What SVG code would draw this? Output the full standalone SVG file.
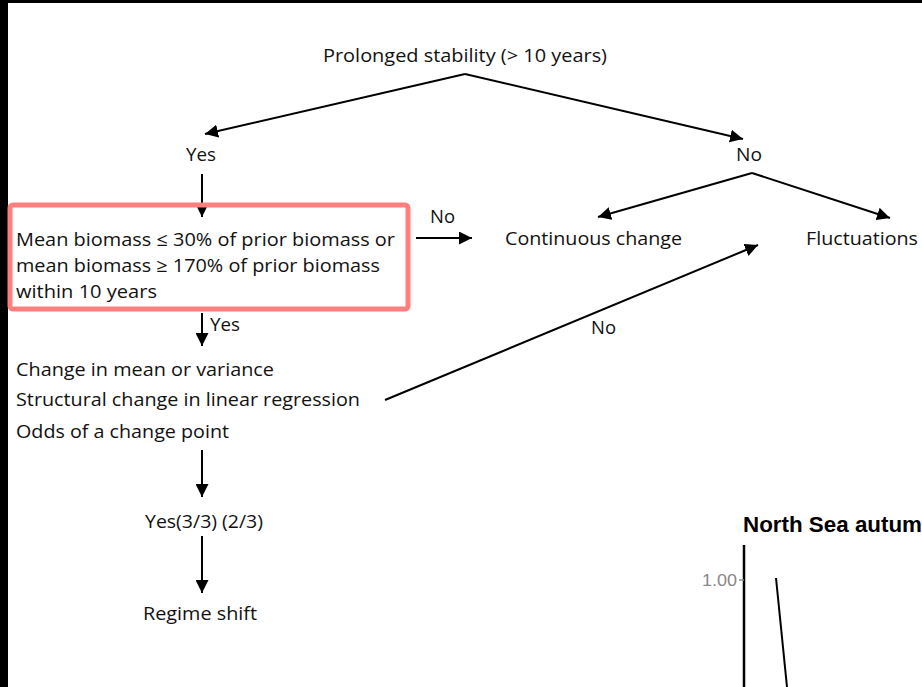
<svg xmlns="http://www.w3.org/2000/svg" width="922" height="687" viewBox="0 0 922 687">
<style>
.t{font-family:"Open Sans","Noto Sans","Liberation Sans",sans-serif;font-size:18.5px;fill:#111;}
.c{stroke:#000;stroke-width:2;fill:none;}
</style>
<defs>
<marker id="ah" viewBox="0 0 10 10" refX="10" refY="5" markerWidth="6.5" markerHeight="6.5" orient="auto" markerUnits="strokeWidth">
<path d="M0,0 L10,5 L0,10 z" fill="#000"/>
</marker>
</defs>
<rect x="0" y="0" width="922" height="687" fill="#fff"/>
<rect x="0" y="0" width="922" height="3" fill="#000"/>
<rect x="0" y="0" width="8" height="687" fill="#000"/>

<g id="connectors">
<line class="c" x1="465" y1="74" x2="205" y2="134" marker-end="url(#ah)"/>
<line class="c" x1="465" y1="74" x2="743" y2="139" marker-end="url(#ah)"/>
<line class="c" x1="202" y1="174" x2="202" y2="217" marker-end="url(#ah)"/>
<line class="c" x1="416" y1="238" x2="472" y2="238" marker-end="url(#ah)"/>
<line class="c" x1="752" y1="173" x2="598" y2="217" marker-end="url(#ah)"/>
<line class="c" x1="752" y1="173" x2="890" y2="218" marker-end="url(#ah)"/>
<line class="c" x1="202" y1="313" x2="202" y2="346" marker-end="url(#ah)"/>
<line class="c" x1="385" y1="400" x2="758" y2="245" marker-end="url(#ah)"/>
<line class="c" x1="202" y1="450" x2="202" y2="497" marker-end="url(#ah)"/>
<line class="c" x1="202" y1="536" x2="202" y2="593" marker-end="url(#ah)"/>
<text class="t" x="430" y="223" textLength="25" lengthAdjust="spacingAndGlyphs">No</text>
<text class="t" x="210" y="331" textLength="30" lengthAdjust="spacingAndGlyphs">Yes</text>
<text class="t" x="591" y="334" textLength="25" lengthAdjust="spacingAndGlyphs">No</text>
</g>

<g id="n-root">
<text class="t" x="323" y="62" textLength="284" lengthAdjust="spacingAndGlyphs">Prolonged stability (&gt; 10 years)</text>
</g>
<g id="n-yes">
<text class="t" x="186" y="161" textLength="30" lengthAdjust="spacingAndGlyphs">Yes</text>
</g>
<g id="n-no">
<text class="t" x="736" y="161" textLength="26" lengthAdjust="spacingAndGlyphs">No</text>
</g>
<g id="n-biomass">
<rect x="10" y="205" width="398" height="104" rx="3" fill="none" stroke="#FF7F7F" stroke-width="5"/>
<text class="t" x="16" y="246" textLength="379" lengthAdjust="spacingAndGlyphs">Mean biomass ≤ 30% of prior biomass or</text>
<text class="t" x="16" y="272" textLength="364" lengthAdjust="spacingAndGlyphs">mean biomass ≥ 170% of prior biomass</text>
<text class="t" x="16" y="298" textLength="141" lengthAdjust="spacingAndGlyphs">within 10 years</text>
</g>
<g id="n-continuous">
<text class="t" x="505" y="245" textLength="177" lengthAdjust="spacingAndGlyphs">Continuous change</text>
</g>
<g id="n-fluct">
<text class="t" x="806" y="245" textLength="112" lengthAdjust="spacingAndGlyphs">Fluctuations</text>
</g>
<g id="n-tests">
<text class="t" x="16" y="376" textLength="258" lengthAdjust="spacingAndGlyphs">Change in mean or variance</text>
<text class="t" x="16" y="406" textLength="344" lengthAdjust="spacingAndGlyphs">Structural change in linear regression</text>
<text class="t" x="16" y="438" textLength="213" lengthAdjust="spacingAndGlyphs">Odds of a change point</text>
</g>
<g id="n-yes33">
<text class="t" x="145" y="528" textLength="118" lengthAdjust="spacingAndGlyphs">Yes(3/3) (2/3)</text>
</g>
<g id="n-regime">
<text class="t" x="143" y="620" textLength="114" lengthAdjust="spacingAndGlyphs">Regime shift</text>
</g>

<g id="chart">
<text x="743" y="532" font-family="'Liberation Sans',Arial,sans-serif" font-weight="bold" font-size="22" fill="#000" textLength="179" lengthAdjust="spacingAndGlyphs">North Sea autum</text>
<line x1="744" y1="545" x2="744" y2="687" stroke="#000" stroke-width="2.5"/>
<line x1="739" y1="580" x2="744" y2="580" stroke="#888" stroke-width="1.5"/>
<text x="737" y="586" text-anchor="end" font-family="'Liberation Sans',Arial,sans-serif" font-size="16" fill="#888" textLength="35" lengthAdjust="spacingAndGlyphs">1.00</text>
<polyline points="776,578 787,687" fill="none" stroke="#000" stroke-width="2"/>
</g>
</svg>
